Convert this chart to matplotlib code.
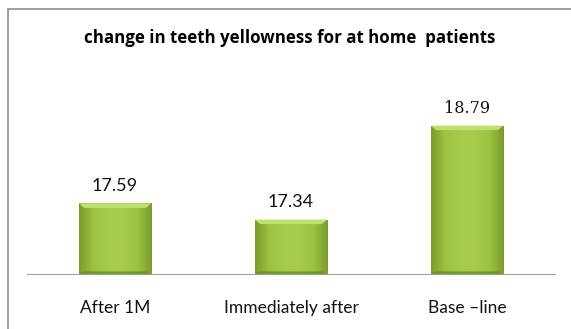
import matplotlib.pyplot as plt
import numpy as np
from matplotlib.patches import Rectangle, Polygon
from matplotlib.colors import LinearSegmentedColormap

categories = ['After 1M', 'Immediately after', 'Base \u2013line']
values = [17.59, 17.34, 18.79]
value_labels = ['17.59', '17.34', '18.79']
title = 'change in teeth yellowness for at home  patients'

fig = plt.figure(figsize=(5.71, 3.29), dpi=100)
ax = fig.add_axes([27 / 571, 55 / 329, 528 / 571, 162 / 329])

x = np.arange(len(categories))
bars = ax.bar(x, [v - 16.5 for v in values], bottom=16.5, width=0.41,
              color='#9BC43E', edgecolor='none', zorder=2)

ax.set_xlim(-0.5, 2.5)
ax.set_ylim(16.5, 19.0)

# bevel-like gradient on each bar
cmap_h = LinearSegmentedColormap.from_list('g', ['#7A9B2A', '#9CC443', '#A6CC4E', '#A6CC4E', '#9CC443', '#7A9B2A'])
grad = np.linspace(0, 1, 200).reshape(1, -1)
for b in bars:
    x0, y0, w, h = b.get_x(), b.get_y(), b.get_width(), b.get_height()
    y1 = y0 + h
    im = ax.imshow(grad, cmap=cmap_h, aspect='auto', extent=(x0, x0 + w, y0, y1), zorder=3)
    im.set_clip_path(b)
    dx = w * 0.07
    dy = 0.07
    ax.add_patch(Polygon([(x0, y1), (x0 + w, y1), (x0 + w - dx, y1 - dy), (x0 + dx, y1 - dy)],
                         closed=True, facecolor='#BFE06C', edgecolor='none', zorder=4))
    ax.add_patch(Polygon([(x0, y0), (x0 + w, y0), (x0 + w - dx, y0 + 0.04), (x0 + dx, y0 + 0.04)],
                         closed=True, facecolor='#6E8C22', edgecolor='none', zorder=4, alpha=0.8))

ax.set_xticks(x)
ax.set_xticklabels(categories, fontsize=12.5, family=['Lato', 'DejaVu Sans'], color='#111111')
ax.tick_params(axis='x', length=0, pad=19)
ax.set_yticks([])
for s in ['top', 'right', 'left']:
    ax.spines[s].set_visible(False)
ax.spines['bottom'].set_color('#A0A0A0')
ax.set_facecolor('none')

for i, b in enumerate(bars):
    if i == 2:
        fam, fs = ['DejaVu Serif'], 11.5
    else:
        fam, fs = ['Lato', 'DejaVu Sans'], 13
    ax.text(b.get_x() + b.get_width() / 2, values[i] + 0.27, value_labels[i],
            ha='center', va='center', fontsize=fs, family=fam, color='#111111')

fig.text(290 / 571, 1 - 38 / 329, title, ha='center', va='center',
         fontsize=12.2, fontweight='bold', family=['Open Sans', 'DejaVu Sans'])

# chart border (only left and top visible in crop)
fig.add_artist(Rectangle((8 / 571, -0.1), 1.2, 1.1 - 9 / 329, transform=fig.transFigure,
                         facecolor='none', edgecolor='#8C8C8C', linewidth=1.2))

fig.savefig('out.png', dpi=100)
